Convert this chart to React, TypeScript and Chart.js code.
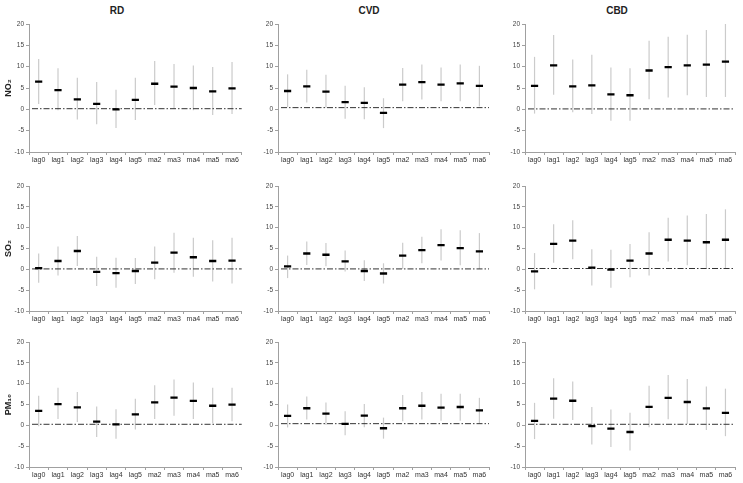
import { useEffect, useRef } from 'react'
import { Chart, registerables } from 'chart.js'

Chart.register(...registerables)

const categories = ['lag0', 'lag1', 'lag2', 'lag3', 'lag4', 'lag5', 'ma2', 'ma3', 'ma4', 'ma5', 'ma6']
const diseases = ['RD', 'CVD', 'CBD']
const pollutants = ['NO₂', 'SO₂', 'PM₁₀']

// NO2
const rdNo2Est = [6.5, 4.5, 2.35, 1.3, 0, 2.2, 6.0, 5.3, 5.0, 4.2, 4.9]
const rdNo2Low = [1.25, -0.2, -2.4, -3.5, -4.4, -2.5, 1.0, 0.2, -0.2, -1.3, -1.1]
const rdNo2High = [11.8, 9.6, 7.4, 6.4, 4.6, 7.4, 11.3, 10.6, 10.3, 9.9, 11.1]
const cvdNo2Est = [4.3, 5.4, 4.15, 1.7, 1.5, -0.85, 5.8, 6.4, 5.8, 6.1, 5.5]
const cvdNo2Low = [0.5, 1.6, 0.4, -2.2, -2.3, -4.4, 1.9, 2.3, 1.9, 1.9, 0.7]
const cvdNo2High = [8.2, 9.3, 8.1, 5.5, 5.2, 2.6, 9.7, 10.5, 9.8, 10.5, 10.2]
const cbdNo2Est = [5.5, 10.3, 5.4, 5.6, 3.5, 3.3, 9.1, 9.9, 10.3, 10.5, 11.2]
const cbdNo2Low = [-1.0, 3.4, -0.7, -1.1, -2.7, -2.7, 2.35, 2.8, 3.3, 2.9, 2.9]
const cbdNo2High = [12.3, 17.4, 11.7, 12.8, 9.8, 9.6, 16.1, 17.0, 17.5, 18.6, 20.0]

// SO2
const rdSo2Est = [0.3, 2.0, 4.4, -0.6, -0.9, -0.4, 1.6, 4.0, 2.9, 2.0, 2.1]
const rdSo2Low = [-3.2, -1.5, 0.8, -4.0, -4.4, -3.5, -2.4, -0.8, -1.8, -2.9, -3.4]
const rdSo2High = [3.8, 5.5, 8.0, 3.0, 2.8, 2.7, 5.5, 8.8, 7.6, 7.0, 7.6]
const cvdSo2Est = [0.7, 3.8, 3.5, 1.9, -0.4, -1.0, 3.3, 4.6, 5.8, 5.1, 4.3]
const cvdSo2Low = [-2.1, 1.05, 0.75, -0.5, -2.8, -3.4, 0.1, 1.45, 2.1, 1.0, 0]
const cvdSo2High = [3.3, 6.7, 6.3, 4.5, 2.2, 1.45, 6.4, 7.8, 9.6, 9.4, 8.7]
const cbdSo2Est = [-0.5, 6.1, 6.9, 0.4, -0.05, 2.1, 3.8, 7.1, 6.9, 6.5, 7.1]
const cbdSo2Low = [-4.8, 1.6, 2.4, -3.9, -4.4, -1.9, -1.5, 1.9, 1.0, 0.1, 0]
const cbdSo2High = [3.9, 10.8, 11.8, 4.8, 4.7, 6.1, 8.9, 12.4, 12.9, 13.3, 14.4]

// PM10
const rdPmEst = [3.45, 5.1, 4.3, 0.9, 0.25, 2.65, 5.5, 6.65, 5.85, 4.7, 4.95]
const rdPmLow = [-0.2, 1.5, 0.8, -2.8, -3.2, -1.0, 1.5, 2.3, 1.5, 0.5, 1.0]
const rdPmHigh = [7.1, 9.0, 8.0, 4.5, 3.85, 6.4, 9.6, 11.0, 10.3, 9.0, 9.0]
const cvdPmEst = [2.25, 4.1, 2.8, 0.35, 2.35, -0.7, 4.1, 4.7, 4.25, 4.4, 3.6]
const cvdPmLow = [-0.5, 1.4, 0.1, -2.35, -0.45, -3.2, 1.0, 1.4, 1.1, 1.1, 0.5]
const cvdPmHigh = [5.0, 6.9, 5.5, 3.4, 5.1, 1.85, 7.3, 8.0, 7.6, 7.6, 6.6]
const cbdPmEst = [1.05, 6.4, 5.9, -0.2, -0.8, -1.6, 4.45, 6.6, 5.6, 4.05, 3.0]
const cbdPmLow = [-3.3, 1.6, 1.3, -4.6, -5.2, -6.05, -0.45, 1.45, 0.35, -1.1, -2.6]
const cbdPmHigh = [5.4, 11.3, 10.5, 4.4, 3.8, 3.0, 9.5, 12.1, 11.1, 9.3, 8.8]

// dash-dot reference line level in each panel (rows: NO2, SO2, PM10)
const refNo2 = [0.15, 0.4, 0.1]
const refSo2 = [0.1, 0.1, 0.2]
const refPm = [0.25, 0.4, 0.25]

const panels = [
  [
    { est: rdNo2Est, low: rdNo2Low, high: rdNo2High, ref: refNo2[0] },
    { est: cvdNo2Est, low: cvdNo2Low, high: cvdNo2High, ref: refNo2[1] },
    { est: cbdNo2Est, low: cbdNo2Low, high: cbdNo2High, ref: refNo2[2] },
  ],
  [
    { est: rdSo2Est, low: rdSo2Low, high: rdSo2High, ref: refSo2[0] },
    { est: cvdSo2Est, low: cvdSo2Low, high: cvdSo2High, ref: refSo2[1] },
    { est: cbdSo2Est, low: cbdSo2Low, high: cbdSo2High, ref: refSo2[2] },
  ],
  [
    { est: rdPmEst, low: rdPmLow, high: rdPmHigh, ref: refPm[0] },
    { est: cvdPmEst, low: cvdPmLow, high: cvdPmHigh, ref: refPm[1] },
    { est: cbdPmEst, low: cbdPmLow, high: cbdPmHigh, ref: refPm[2] },
  ],
]

// layout of the grid
const colLeft = [0, 248, 496]
const colWidth = [248, 248, 247]
const yAxisWidth = [29, 30, 29]
const padRight = [3, 7, 8]
const rowTop = [14, 176, 332]
const rowHeight = [154, 151, 151]
const titleCenter = [117, 369, 617]

const FONT = '"Liberation Sans", Arial, sans-serif'
Chart.defaults.font.family = FONT

const refLinePlugin = {
  id: 'refLine',
  afterDatasetDraw(chart: any, args: any, opts: any) {
    if (args.meta.type !== 'bar') return
    const { ctx, chartArea, scales } = chart
    const y = scales.y.getPixelForValue(opts.level)
    ctx.save()
    ctx.strokeStyle = '#333'
    ctx.lineWidth = 1
    ctx.setLineDash([6, 2, 1.5, 2])
    ctx.beginPath()
    ctx.moveTo(chartArea.left + 3, y)
    ctx.lineTo(chartArea.right, y)
    ctx.stroke()
    ctx.restore()
  },
}

interface PanelProps {
  row: number
  col: number
}

function Panel({ row, col }: PanelProps) {
  const canvasRef = useRef<HTMLCanvasElement>(null)

  useEffect(() => {
    if (!canvasRef.current) return
    const p = panels[row][col]
    const chart = new Chart(canvasRef.current, {
      type: 'bar',
      data: {
        labels: categories,
        datasets: [
          {
            type: 'bar',
            data: p.low.map((l, i) => [l, p.high[i]]) as any,
            backgroundColor: '#cbcbcb',
            barThickness: 1.2,
            inflateAmount: 0,
            order: 2,
          },
          {
            type: 'line',
            data: p.est,
            showLine: false,
            pointStyle: 'line',
            pointRadius: 3.6,
            pointBorderWidth: 2.3,
            pointBorderColor: '#000',
            borderColor: '#000',
            order: 1,
          },
        ],
      },
      options: {
        animation: false,
        responsive: false,
        events: [],
        layout: { padding: { top: 10, bottom: 0, left: 0, right: padRight[col] } },
        plugins: {
          legend: { display: false },
          tooltip: { enabled: false },
          refLine: { level: p.ref },
        } as any,
        scales: {
          x: {
            offset: true,
            grid: { offset: true, drawOnChartArea: false, drawTicks: true, tickLength: 3, color: '#a0a0a0' },
            border: { color: '#a0a0a0' },
            ticks: { color: '#333', font: { size: 7 }, padding: 1, maxRotation: 0, autoSkip: false },
            afterFit: (scale: any) => { scale.height = 16 },
          },
          y: {
            min: -10,
            max: 20,
            grid: { drawOnChartArea: false, drawTicks: true, tickLength: 3, color: '#a0a0a0' },
            border: { color: '#a0a0a0' },
            ticks: { stepSize: 5, color: '#444', font: { size: 6.5 }, padding: 2 },
            title: {
              display: col === 0,
              text: pollutants[row],
              color: '#222',
              font: { size: 9, weight: 'bold' },
              padding: { top: 3, bottom: 3 },
            },
            afterFit: (scale: any) => { scale.width = yAxisWidth[col] },
          },
        },
      },
      plugins: [refLinePlugin],
    })
    return () => chart.destroy()
  }, [row, col])

  return (
    <canvas
      ref={canvasRef}
      width={colWidth[col]}
      height={rowHeight[row]}
      style={{
        position: 'absolute',
        left: colLeft[col],
        top: rowTop[row],
        width: colWidth[col],
        height: rowHeight[row],
      }}
    />
  )
}

export default function App() {
  return (
    <div
      style={{
        position: 'fixed',
        left: 0,
        top: 0,
        width: 743,
        height: 483,
        background: '#fff',
        overflow: 'hidden',
        fontFamily: FONT,
      }}
    >
      {diseases.map((d, c) => (
        <div
          key={d}
          style={{
            position: 'absolute',
            left: titleCenter[c] - 40,
            width: 80,
            top: 4,
            textAlign: 'center',
            fontSize: 10,
            fontWeight: 'bold',
            color: '#222',
            lineHeight: '14px',
          }}
        >
          {d}
        </div>
      ))}
      {[0, 1, 2].map(r => [0, 1, 2].map(c => <Panel key={`${r}-${c}`} row={r} col={c} />))}
    </div>
  )
}
